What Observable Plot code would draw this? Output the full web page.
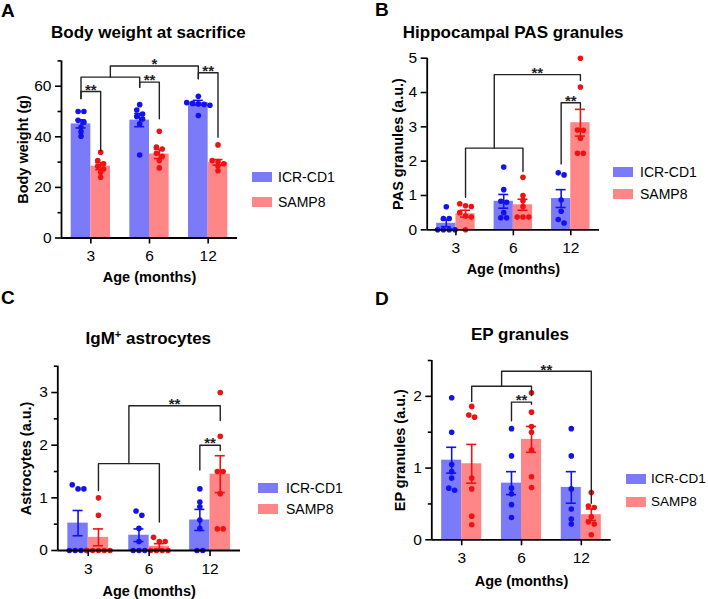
<!DOCTYPE html>
<html><head><meta charset="utf-8">
<script src="https://cdn.jsdelivr.net/npm/d3@7"></script>
<script src="https://cdn.jsdelivr.net/npm/@observablehq/plot@0.6"></script>
<style>
html,body{margin:0;padding:0;background:#fff;overflow:hidden;}
#root{position:relative;width:708px;height:599px;font-family:"Liberation Sans",Arial,Helvetica,sans-serif;color:#000;}
.abs{position:absolute;line-height:1;white-space:nowrap;}
.c{transform:translate(-50%,-50%);}
.vc{transform:translateY(-50%);}
.letter{font-size:19px;font-weight:bold;}
.title{font-size:17px;font-weight:bold;}
.legtxt{font-size:14px;}
.sw{position:absolute;width:20px;height:10px;transform:translateY(-50%);}
.panel{position:absolute;}
[aria-label$="axis label"] text{font-weight:bold;}
</style></head><body><div id="root"></div>
<script>
// ---------- data ----------
const ages = ["3", "6", "12"];
const seriesNames = ["ICR-CD1", "SAMP8"];

// A: Body weight at sacrifice (g)
const weightICRMean = [45.1, 46.6, 53.5];
const weightICRSem = [1.6, 2.6, 0.9];
const weightSAMPMean = [28.4, 33.2, 29.9];
const weightSAMPSem = [1.4, 1.8, 1.1];
const weightICRPoints = [[50, 50, 46.5, 45.8, 43.8, 42, 40.2], [52.7, 50.6, 49, 48, 47, 45.1, 32.8], [56, 53.5, 53.2, 53, 52.8, 52.5, 48.4]];
const weightSAMPPoints = [[33.9, 30.6, 29.3, 28.4, 27.3, 26, 24], [42.2, 35.9, 35.2, 33.5, 32.3, 30.6, 27.7], [36.8, 30.6, 30.2, 29.3, 28.5, 26.6]];
const weightBrackets = [
  {a: [0, "ICR"], b: [0, "SAMP"], top: 57.9, aEnd: 55.2, bEnd: 34.5, label: "**"},
  {a: [1, "ICR"], b: [1, "SAMP"], top: 61.6, aEnd: 59.6, bEnd: 47.1, label: "**"},
  {a: [0, "ICR"], b: [1, "ICR"], top: 63.6, aEnd: 55.0, bEnd: 59.6, label: ""},
  {a: ["mid", 2], b: [2, "ICR"], top: 68.0, aEnd: 63.6, bEnd: 62.9, label: "*"},
  {a: [2, "ICR"], b: [2, "SAMP"], top: 65.3, aEnd: 62.9, bEnd: 39.8, label: "**"}
];

// B: Hippocampal PAS granules (a.u.)
const pasICRMean = [0.19, 0.83, 0.91];
const pasICRSem = [0.1, 0.2, 0.26];
const pasSAMPMean = [0.47, 0.73, 3.12];
const pasSAMPSem = [0.1, 0.16, 0.39];
const pasICRPoints = [[0.67, 0.33, 0.33, 0, 0, 0, 0], [1.83, 1.17, 0.83, 0.8, 0.5, 0.35, 0.35], [1.66, 1.6, 0.87, 0.54, 0.3, 0.2]];
const pasSAMPPoints = [[0.76, 0.7, 0.68, 0.5, 0.4, 0.37, 0], [1.53, 1.0, 0.85, 0.68, 0.37, 0.37, 0.37], [5.0, 4.16, 2.91, 2.9, 2.67, 2.23, 2.23]];
const pasBrackets = [
  {a: [2, "ICR"], b: [2, "SAMP"], top: 3.7, aEnd: 1.92, bEnd: 3.55, label: "**"},
  {a: [0, "SAMP"], b: [1, "SAMP"], top: 2.38, aEnd: 0.95, bEnd: 1.7, label: ""},
  {a: ["mid", 1], b: [2, "SAMP"], top: 4.52, aEnd: 2.38, bEnd: 4.35, label: "**"}
];

// C: IgM+ astrocytes (a.u.)
const igmICRMean = [0.52, 0.29, 0.58];
const igmICRSem = [0.24, 0.12, 0.2];
const igmSAMPMean = [0.25, 0.08, 1.45];
const igmSAMPSem = [0.16, 0.05, 0.35];
const igmICRPoints = [[1.25, 1.17, 1.17, 0, 0, 0, 0], [0.75, 0.67, 0.42, 0.17, 0, 0, 0], [1.17, 0.92, 0.83, 0.58, 0.42, 0, 0]];
const igmSAMPPoints = [[1.0, 0.67, 0, 0, 0, 0, 0], [0.25, 0.17, 0.17, 0, 0, 0, 0], [3.0, 2.17, 1.5, 1.5, 1.08, 0.41, 0.41]];
const igmBrackets = [
  {a: [2, "ICR"], b: [2, "SAMP"], top: 2.0, aEnd: 1.53, bEnd: 1.9, label: "**"},
  {a: [0, "SAMP"], b: [1, "SAMP"], top: 1.65, aEnd: 1.14, bEnd: 0.54, label: ""},
  {a: ["mid", 1], b: [2, "SAMP"], top: 2.75, aEnd: 1.65, bEnd: 2.47, label: "**"}
];

// D: EP granules (a.u.)
const epICRMean = [1.11, 0.79, 0.73];
const epICRSem = [0.18, 0.16, 0.22];
const epSAMPMean = [1.06, 1.40, 0.35];
const epSAMPSem = [0.27, 0.18, 0.08];
const epICRPoints = [[1.98, 1.5, 1.05, 0.95, 0.86, 0.72, 0.69], [1.55, 1.17, 0.72, 0.64, 0.49, 0.31], [1.55, 1.17, 0.71, 0.43, 0.29, 0.22]];
const epSAMPPoints = [[1.86, 1.74, 1.71, 0.86, 0.71, 0.33, 0.21], [2.05, 1.78, 1.58, 1.5, 1.25, 0.88, 0.73], [0.66, 0.47, 0.45, 0.32, 0.25, 0.22, 0.07]];
const epBrackets = [
  {a: [1, "ICR"], b: [1, "SAMP"], top: 1.92, aEnd: 1.66, bEnd: 1.89, label: "**"},
  {a: [0, "SAMP"], b: [1, "SAMP"], top: 2.14, aEnd: 1.93, bEnd: 2.01, label: ""},
  {a: ["mid", 1], b: [2, "SAMP"], top: 2.35, aEnd: 2.14, bEnd: 0.51, label: "**"}
];

// ---------- styling ----------
const FONT = '"Liberation Sans", Arial, Helvetica, sans-serif';
const BAR = {ICR: "#7b7bf9", SAMP: "#ff8686"};
const DOT = {ICR: "#1212ee", SAMP: "#f01212"};
const half = 0.1675;
const xOf = (gi, s) => gi + (s === "ICR" ? -half : half);

function swarm(values, pxU, step) {
  const idx = values.map((v, i) => i).sort((a, b) => values[b] - values[a]);
  const off = new Array(values.length).fill(0);
  let row = [];
  const flush = () => { row.forEach((i, k) => off[i] = (k - (row.length - 1) / 2) * step); row = []; };
  for (const i of idx) {
    if (row.length && (values[row[0]] - values[i]) * pxU >= 4.5) flush();
    row.push(i);
  }
  flush();
  return off;
}

function makePanel(cfg) {
  const fw = cfg.width - cfg.ml - cfg.mr;
  const fh = cfg.height - cfg.mt - cfg.mb;
  const pxG = fw / 3, pxU = fh / cfg.ymax;
  const bars = [], dots = [], errs = [], caps = [];
  const sets = [["ICR", cfg.icrMean, cfg.icrSem, cfg.icrPts], ["SAMP", cfg.sampMean, cfg.sampSem, cfg.sampPts]];
  for (const [s, mean, sem, pts] of sets) {
    ages.forEach((a, gi) => {
      const cx = xOf(gi, s);
      bars.push({x1: cx - half, x2: cx + half, y: mean[gi], fill: BAR[s]});
      const off = swarm(pts[gi], pxU, 5.8);
      pts[gi].forEach((v, j) => dots.push({x: cx + off[j] / pxG, y: v, fill: DOT[s]}));
      const lo = Math.max(0, mean[gi] - sem[gi]), hi = mean[gi] + sem[gi];
      errs.push({x: cx, lo, hi, c: DOT[s]});
      caps.push({y: lo, x1: cx - 5 / pxG, x2: cx + 5 / pxG, c: DOT[s]});
      caps.push({y: hi, x1: cx - 5 / pxG, x2: cx + 5 / pxG, c: DOT[s]});
    });
  }
  const bx = [];
  cfg.brackets.forEach((b, k) => {
    const xa = b.a[0] === "mid" ? bx[b.a[1]].mid : xOf(b.a[0], b.a[1]);
    const xb = xOf(b.b[0], b.b[1]);
    bx.push({...b, xa, xb, mid: (xa + xb) / 2, k});
  });
  const bpts = bx.flatMap(b => [
    {k: b.k, x: b.xa, y: b.aEnd}, {k: b.k, x: b.xa, y: b.top},
    {k: b.k, x: b.xb, y: b.top}, {k: b.k, x: b.xb, y: b.bEnd}
  ]);
  return Plot.plot({
    width: cfg.width, height: cfg.height,
    marginLeft: cfg.ml, marginRight: cfg.mr, marginTop: cfg.mt, marginBottom: cfg.mb,
    x: {domain: [-0.5, 2.5]},
    y: {domain: [0, cfg.ymax]},
    color: {type: "identity"},
    style: {fontFamily: FONT, color: "#000", background: "transparent", overflow: "visible"},
    marks: [
      Plot.rectY(bars, {x1: "x1", x2: "x2", y1: 0, y2: "y", fill: "fill", inset: 0}),
      Plot.dot(dots, {x: "x", y: "y", r: 2.8, fill: "fill", stroke: null}),
      Plot.ruleX(errs, {x: "x", y1: "lo", y2: "hi", stroke: "c", strokeWidth: 1.6}),
      Plot.ruleY(caps, {y: "y", x1: "x1", x2: "x2", stroke: "c", strokeWidth: 1.6}),
      Plot.line(bpts, {x: "x", y: "y", z: "k", stroke: "#222", strokeWidth: 1.4}),
      Plot.text(bx.filter(b => b.label), {x: "mid", y: "top", text: "label", fontSize: 15, fontWeight: "bold", lineAnchor: "middle", dy: -1.5, fill: "#222"}),
      Plot.axisY({ticks: cfg.major, tickFormat: d => String(d), tickSize: 6, tickPadding: 4, fontSize: 15.5, label: null, strokeWidth: 1.6}),
      Plot.axisY({ticks: cfg.minor, tickSize: 3.5, tickFormat: () => "", label: null, strokeWidth: 1.6}),
      Plot.axisY({ticks: [], tickSize: 0, label: cfg.ylabel, labelAnchor: "center", labelArrow: "none", labelOffset: cfg.ylo, fontSize: 14.5, fontWeight: "bold"}),
      Plot.axisX({ticks: [0, 1, 2], tickFormat: i => ages[i], tickSize: 6, tickPadding: 6, fontSize: 15.5, label: null, strokeWidth: 1.6}),
      Plot.axisX({ticks: [], tickSize: 0, label: "Age (months)", labelAnchor: "center", labelArrow: "none", labelOffset: cfg.xlo, fontSize: 14.5, fontWeight: "bold"}),
      Plot.ruleX([-0.5], {strokeWidth: 1.8}),
      Plot.ruleY([0], {strokeWidth: 1.8})
    ]
  });
}

const root = document.getElementById("root");
function addText(cls, html, left, top, size) {
  const d = document.createElement("div");
  d.className = "abs " + cls;
  d.innerHTML = html;
  d.style.left = left + "px";
  d.style.top = top + "px";
  if (size) d.style.fontSize = size + "px";
  root.appendChild(d);
}
function addLegend(swLeft, yICR, ySAMP, txtLeft, size) {
  [["ICR", yICR, seriesNames[0]], ["SAMP", ySAMP, seriesNames[1]]].forEach(([s, y, name]) => {
    const sw = document.createElement("div");
    sw.className = "sw";
    sw.style.left = swLeft + "px"; sw.style.top = y + "px"; sw.style.background = BAR[s];
    root.appendChild(sw);
    addText("legtxt vc", name, txtLeft, y, size);
  });
}
function addPlot(svg, left, top) {
  const d = document.createElement("div");
  d.className = "panel";
  d.style.left = left + "px"; d.style.top = top + "px";
  d.appendChild(svg);
  root.appendChild(d);
}

// Panel A
addPlot(makePanel({width: 250, height: 300, ml: 61, mr: 13, mt: 60.4, mb: 62.5, ymax: 70,
  major: [0, 20, 40, 60], minor: [10, 30, 50, 70], ylabel: "Body weight (g)", ylo: 44, xlo: 44,
  icrMean: weightICRMean, icrSem: weightICRSem, sampMean: weightSAMPMean, sampSem: weightSAMPSem,
  icrPts: weightICRPoints, sampPts: weightSAMPPoints, brackets: weightBrackets}), 0, 0);
// Panel B
addPlot(makePanel({width: 354, height: 300, ml: 72.7, mr: 109, mt: 57.7, mb: 70.7, ymax: 5,
  major: [0, 1, 2, 3, 4, 5], minor: [], ylabel: "PAS granules (a.u.)", ylo: 34.4, xlo: 44,
  icrMean: pasICRMean, icrSem: pasICRSem, sampMean: pasSAMPMean, sampSem: pasSAMPSem,
  icrPts: pasICRPoints, sampPts: pasSAMPPoints, brackets: pasBrackets}), 354, 0);
// Panel C
addPlot(makePanel({width: 354, height: 299, ml: 57.3, mr: 114, mt: 65.7, mb: 49, ymax: 3.5,
  major: [0, 1, 2, 3], minor: [0.5, 1.5, 2.5, 3.5], ylabel: "Astrocytes (a.u.)", ylo: 37.3, xlo: 45,
  icrMean: igmICRMean, icrSem: igmICRSem, sampMean: igmSAMPMean, sampSem: igmSAMPSem,
  icrPts: igmICRPoints, sampPts: igmSAMPPoints, brackets: igmBrackets}), 0, 300);
// Panel D
addPlot(makePanel({width: 354, height: 299, ml: 77.3, mr: 97.3, mt: 60, mb: 59.7, ymax: 2.5,
  major: [0, 1, 2], minor: [0.5, 1.5, 2.5], ylabel: "EP granules (a.u.)", ylo: 37.3, xlo: 45.7,
  icrMean: epICRMean, icrSem: epICRSem, sampMean: epSAMPMean, sampSem: epSAMPSem,
  icrPts: epICRPoints, sampPts: epSAMPPoints, brackets: epBrackets}), 354, 300);

// Letters and titles
addText("letter", "A", 1, 1);
addText("letter", "B", 375, 0);
addText("letter", "C", 1, 288);
addText("letter", "D", 375, 289);
addText("title c", "Body weight at sacrifice", 148.3, 31.8);
addText("title c", "Hippocampal PAS granules", 513.2, 31.5);
addText("title c", 'IgM<sup style="font-size:11px;vertical-align:6px;line-height:0">+</sup> astrocytes', 148.3, 337.5);
addText("title c", "EP granules", 520, 334);

// Legends
addLegend(252, 176.7, 201.7, 278);
addLegend(613, 172, 194, 640);
addLegend(257.7, 487.7, 509.3, 286);
addLegend(625.7, 478.7, 501.7, 651, 13.5);
</script></body></html>
